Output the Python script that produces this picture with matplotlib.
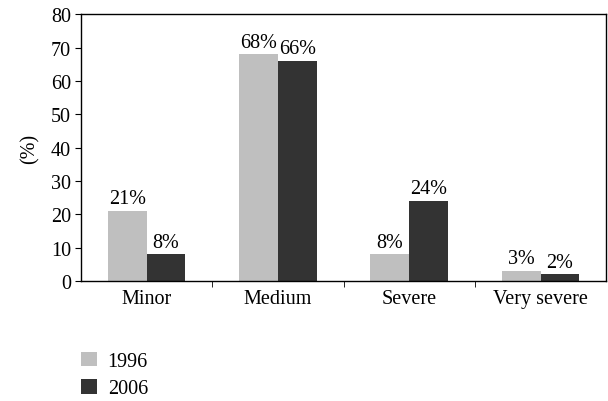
import numpy as np
import matplotlib
matplotlib.use("Agg")
import matplotlib.pyplot as plt
from matplotlib.patches import Patch

plt.rcParams["font.family"] = ["Liberation Serif", "DejaVu Serif"]

# severity categories and share of cases per survey year
categories = ["Minor", "Medium", "Severe", "Very severe"]
years = ["1996", "2006"]
vals_1996 = [21, 68, 8, 3]
vals_2006 = [8, 66, 24, 2]
colors = ["#bfbfbf", "#333333"]

FS = 14.5

fig = plt.figure(figsize=(6.08, 4.02), dpi=100)
ax = fig.add_axes([0.133, 0.2985, 0.864, 0.6635])

x = np.arange(len(categories))
w = 0.295
b1 = ax.bar(x - w / 2, vals_1996, w, color=colors[0])
b2 = ax.bar(x + w / 2, vals_2006, w, color=colors[1])

for bars in (b1, b2):
    for rect in bars:
        h = rect.get_height()
        ax.annotate(f"{h:.0f}%", (rect.get_x() + rect.get_width() / 2, h),
                    xytext=(0, 2), textcoords="offset points",
                    ha="center", va="bottom", fontsize=FS)

ax.set_xlim(-0.5, len(categories) - 0.5)
ax.set_ylim(0, 80)
ax.set_yticks(range(0, 81, 10))
ax.set_xticks(x)
ax.set_xticklabels(categories, fontsize=FS)
ax.set_xticks(x[:-1] + 0.5, minor=True)
ax.tick_params(axis="x", which="major", length=0, pad=6)
ax.tick_params(axis="x", which="minor", length=4, direction="out")
ax.tick_params(axis="y", length=4, direction="out", labelsize=FS, pad=3)
ax.set_ylabel("(%)", fontsize=FS, labelpad=8)
for s in ax.spines.values():
    s.set_linewidth(1.0)

handles = [Patch(facecolor=c) for c in colors]
fig.legend(handles, years, loc="upper left", bbox_to_anchor=(0.134, 0.123),
           frameon=False, fontsize=FS, handlelength=0.75, handleheight=0.75,
           handletextpad=0.55, labelspacing=0.4, borderpad=0, borderaxespad=0)

fig.savefig("out.png", dpi=100)
